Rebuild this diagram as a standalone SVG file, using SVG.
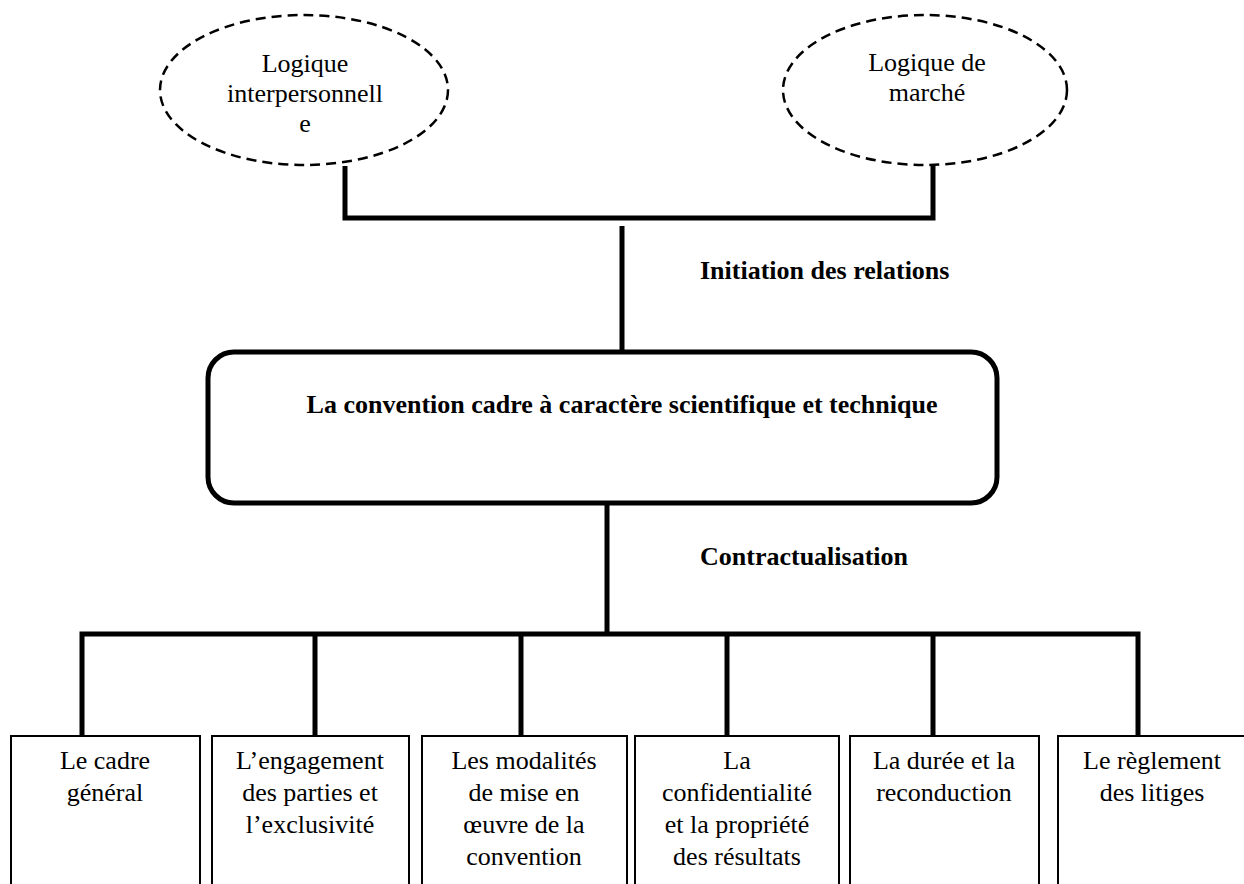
<svg xmlns="http://www.w3.org/2000/svg" width="1244" height="884" viewBox="0 0 1244 884">
<style>
.t{font-family:"Liberation Serif","Times New Roman",serif;font-size:26px;fill:#000;text-anchor:middle}
.b{font-family:"Liberation Serif","Times New Roman",serif;font-size:26px;font-weight:bold;fill:#000}
.ell{fill:none;stroke:#000;stroke-width:2.5;stroke-dasharray:10 6}
.box{fill:#fff;stroke:#000;stroke-width:2}
.conn{fill:none;stroke:#000;stroke-width:5}
</style>
<rect width="1244" height="884" fill="#fff"/>
<g id="connectors">
<polyline class="conn" points="345,166 345,218 933,218 933,165"/>
<line class="conn" x1="622" y1="226" x2="622" y2="352"/>
<line class="conn" x1="607" y1="503" x2="607" y2="634"/>
<polyline class="conn" points="82,736 82,634 1138,634 1138,736"/>
<line class="conn" x1="315" y1="634" x2="315" y2="736"/>
<line class="conn" x1="521" y1="634" x2="521" y2="736"/>
<line class="conn" x1="727" y1="634" x2="727" y2="736"/>
<line class="conn" x1="933" y1="634" x2="933" y2="736"/>
</g>
<g id="label-initiation"><text class="b" x="700" y="279">Initiation des relations</text></g>
<g id="label-contractualisation"><text class="b" x="700" y="565">Contractualisation</text></g>
<g id="ellipse-interpersonnelle">
<ellipse class="ell" cx="304" cy="90" rx="144" ry="75"/>
<text class="t" x="305" y="72">Logique</text>
<text class="t" x="305" y="102">interpersonnell</text>
<text class="t" x="305" y="132">e</text>
</g>
<g id="ellipse-marche">
<ellipse class="ell" cx="925" cy="90" rx="142" ry="75"/>
<text class="t" x="927" y="71">Logique de</text>
<text class="t" x="927" y="101">marché</text>
</g>
<g id="convention">
<rect x="208" y="352" width="789" height="151" rx="26" ry="26" fill="#fff" stroke="#000" stroke-width="5"/>
<text class="b" x="622" y="413" text-anchor="middle">La convention cadre à caractère scientifique et technique</text>
</g>
<g id="box-cadre">
<rect class="box" x="11" y="736" width="189" height="160"/>
<text class="t" x="105" y="769">Le cadre</text>
<text class="t" x="105" y="801">général</text>
</g>
<g id="box-engagement">
<rect class="box" x="212" y="736" width="197" height="160"/>
<text class="t" x="310" y="769">L’engagement</text>
<text class="t" x="310" y="801">des parties et</text>
<text class="t" x="310" y="833">l’exclusivité</text>
</g>
<g id="box-modalites">
<rect class="box" x="422" y="736" width="205" height="160"/>
<text class="t" x="524" y="769">Les modalités</text>
<text class="t" x="524" y="801">de mise en</text>
<text class="t" x="524" y="833">œuvre  de la</text>
<text class="t" x="524" y="865">convention</text>
</g>
<g id="box-confidentialite">
<rect class="box" x="635" y="736" width="204" height="160"/>
<text class="t" x="737" y="769">La</text>
<text class="t" x="737" y="801">confidentialité</text>
<text class="t" x="737" y="833">et la propriété</text>
<text class="t" x="737" y="865">des résultats</text>
</g>
<g id="box-duree">
<rect class="box" x="850" y="736" width="189" height="160"/>
<text class="t" x="944" y="769">La durée et la</text>
<text class="t" x="944" y="801">reconduction</text>
</g>
<g id="box-reglement">
<rect class="box" x="1058" y="736" width="188" height="160"/>
<text class="t" x="1152" y="769">Le règlement</text>
<text class="t" x="1152" y="801">des litiges</text>
</g>
</svg>
